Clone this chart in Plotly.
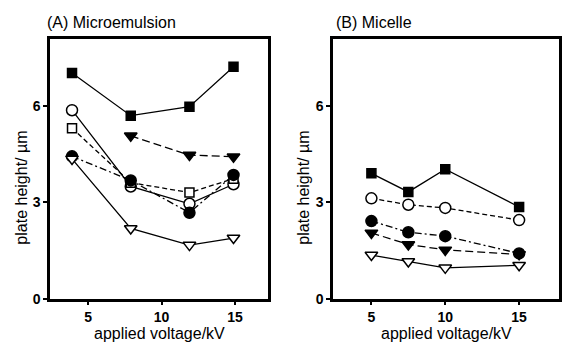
import plotly.graph_objects as go

# Panel A: Microemulsion
xa = [3.9, 7.9, 11.9, 14.9]
xa_tri = [7.9, 11.9, 14.9]
a_fsq = [7.04, 5.71, 5.99, 7.24]
a_ftri = [5.08, 4.48, 4.43]
a_ocir = [5.88, 3.50, 2.96, 3.57]
a_osq = [5.32, 3.62, 3.31, 3.74]
a_fcir = [4.44, 3.69, 2.68, 3.86]
a_otri = [4.36, 2.19, 1.67, 1.89]

# Panel B: Micelle
xb = [5, 7.5, 10, 15]
b_fsq = [3.91, 3.33, 4.04, 2.86]
b_ocir = [3.13, 2.93, 2.83, 2.45]
b_fcir = [2.42, 2.07, 1.95, 1.41]
b_ftri = [2.05, 1.69, 1.52, 1.38]
b_otri = [1.36, 1.16, 0.96, 1.04]

x_ticks = [5, 10, 15]
y_ticks = [0, 3, 6]

FONT = "Liberation Sans, Arial, Helvetica, sans-serif"
K = "black"

fig = go.Figure()

def add(x, y, symbol, filled, dash, size, xaxis, yaxis):
    fig.add_trace(go.Scatter(
        x=x, y=y, mode="lines+markers", xaxis=xaxis, yaxis=yaxis,
        line=dict(color=K, width=1.3, dash=dash),
        marker=dict(symbol=symbol, size=size, color=K if filled else "white",
                    line=dict(color=K, width=1.5)),
        showlegend=False, cliponaxis=False))

# Panel A traces
add(xa, a_fsq, "square", True, "solid", 9, "x", "y")
add(xa_tri, a_ftri, "triangle-down", True, "8px,4px", 11, "x", "y")
add(xa, a_ocir, "circle", False, "solid", 11, "x", "y")
add(xa, a_osq, "square", False, "5px,3px", 9, "x", "y")
add(xa, a_fcir, "circle", True, "7px,3px,2px,3px", 11, "x", "y")
add(xa, a_otri, "triangle-down", False, "solid", 11, "x", "y")

# Panel B traces
add(xb, b_fsq, "square", True, "solid", 9, "x2", "y2")
add(xb, b_ocir, "circle", False, "5px,3px", 11, "x2", "y2")
add(xb, b_fcir, "circle", True, "7px,3px,2px,3px", 11, "x2", "y2")
add(xb, b_ftri, "triangle-down", True, "8px,4px", 11, "x2", "y2")
add(xb, b_otri, "triangle-down", False, "solid", 11, "x2", "y2")

axis_common = dict(showline=True, linecolor=K, linewidth=2.5, mirror=True,
                   showgrid=False, zeroline=False, ticks="outside",
                   ticklen=4, tickwidth=1.5, tickcolor=K,
                   tickfont=dict(family=FONT, size=14, color=K, weight="bold"))

ydom = [1 - 305.5 / 354, 1 - 40 / 354]

fig.update_layout(
    width=562, height=354, margin=dict(l=0, r=0, t=0, b=0),
    paper_bgcolor="white", plot_bgcolor="white",
    xaxis=dict(domain=[50 / 562, 268 / 562], range=[2.4, 17.25],
               tickvals=x_ticks, anchor="y", **axis_common),
    yaxis=dict(domain=ydom, range=[0, 8.1], tickvals=y_ticks, anchor="x",
               **axis_common),
    xaxis2=dict(domain=[333 / 562, 559 / 562], range=[2.4, 17.7],
                tickvals=x_ticks, anchor="y2", **axis_common),
    yaxis2=dict(domain=ydom, range=[0, 8.1], tickvals=y_ticks, anchor="x2",
                **axis_common),
)

anns = [
    dict(text="(A) Microemulsion", x=45 / 562, y=1 - 23 / 354, xanchor="left", size=16),
    dict(text="(B) Micelle", x=334 / 562, y=1 - 23 / 354, xanchor="left", size=16),
    dict(text="applied voltage/kV", x=159 / 562, y=1 - 341 / 354, xanchor="center", size=16),
    dict(text="applied voltage/kV", x=446 / 562, y=1 - 341 / 354, xanchor="center", size=16),
    dict(text="plate height/ µm", x=22 / 562, y=1 - 192 / 354, xanchor="center", textangle=-90, size=16),
    dict(text="plate height/ µm", x=304 / 562, y=1 - 192 / 354, xanchor="center", textangle=-90, size=16),
]
for a in anns:
    size = a.pop("size")
    fig.add_annotation(xref="paper", yref="paper", showarrow=False,
                       yanchor="middle", font=dict(family=FONT, size=size, color=K), **a)

fig.write_html("out.html")
